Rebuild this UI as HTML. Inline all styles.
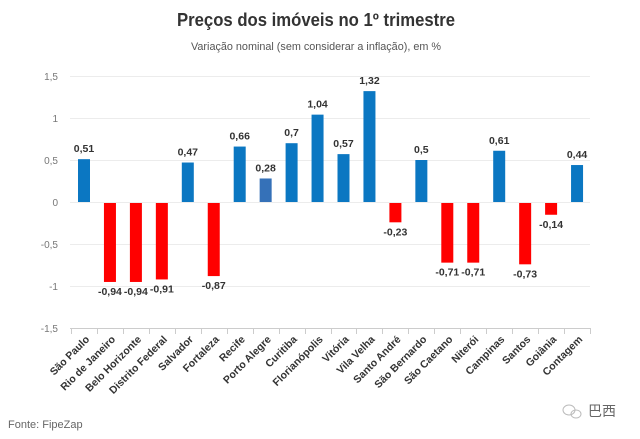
<!DOCTYPE html>
<html><head><meta charset="utf-8"><style>
html,body{margin:0;padding:0;background:#fff;}
svg{display:block;font-family:"Liberation Sans","Noto Sans CJK SC",sans-serif;}
</style></head><body>
<svg width="640" height="439" viewBox="0 0 640 439" xmlns="http://www.w3.org/2000/svg">
<text x="316" y="26" text-anchor="middle" font-size="18" font-weight="bold" fill="#333" textLength="278" lengthAdjust="spacingAndGlyphs">Preços dos imóveis no 1º trimestre</text>
<text x="316" y="50" text-anchor="middle" font-size="11" fill="#555" textLength="250" lengthAdjust="spacingAndGlyphs">Variação nominal (sem considerar a inflação), em %</text>
<g stroke="#ececec" stroke-width="1">
<line x1="70" x2="590" y1="76.5" y2="76.5"/>
<line x1="70" x2="590" y1="118.5" y2="118.5"/>
<line x1="70" x2="590" y1="160.5" y2="160.5"/>
<line x1="70" x2="590" y1="202.5" y2="202.5"/>
<line x1="70" x2="590" y1="244.5" y2="244.5"/>
<line x1="70" x2="590" y1="286.5" y2="286.5"/>
</g>
<line x1="70" x2="590" y1="328.5" y2="328.5" stroke="#ccc"/>
<g font-size="10" fill="#777" text-anchor="end">
<text x="58" y="80">1,5</text><text x="58" y="122">1</text><text x="58" y="164">0,5</text>
<text x="58" y="206">0</text><text x="58" y="248">-0,5</text><text x="58" y="290">-1</text><text x="58" y="332">-1,5</text>
</g>
<g id="ticks" stroke="#ccc"></g>
<g id="bars"></g>
<g id="vals" font-size="10.5" font-weight="bold" fill="#333" text-anchor="middle"></g>
<g id="cats" font-size="10.5" font-weight="bold" fill="#333" text-anchor="end"></g>
<text x="8" y="428" font-size="11" fill="#666">Fonte: FipeZap</text>
<g fill="none" stroke="#bbb" stroke-width="1"><ellipse cx="569" cy="410" rx="6" ry="5"/><ellipse cx="576" cy="414" rx="5" ry="4"/></g>
<text x="588" y="416" font-size="14" fill="#666">巴西</text>
<script>
var d=[["São Paulo",0.51],["Rio de Janeiro",-0.94],["Belo Horizonte",-0.94],["Distrito Federal",-0.91],["Salvador",0.47],["Fortaleza",-0.87],["Recife",0.66],["Porto Alegre",0.28],["Curitiba",0.7],["Florianópolis",1.04],["Vitória",0.57],["Vila Velha",1.32],["Santo André",-0.23],["São Bernardo",0.5],["São Caetano",-0.71],["Niterói",-0.71],["Campinas",0.61],["Santos",-0.73],["Goiânia",-0.14],["Contagem",0.44]];
var ns="http://www.w3.org/2000/svg",step=25.95,x0=84;
function el(t,a,p,txt){var e=document.createElementNS(ns,t);for(var k in a)e.setAttribute(k,a[k]);if(txt)e.textContent=txt;document.getElementById(p).appendChild(e);}
for(var i=0;i<=20;i++){var tx=Math.round(x0-step/2+i*step)+0.5;el("line",{x1:tx,x2:tx,y1:328,y2:334},"ticks");}
d.forEach(function(r,i){var cx=x0+i*step,v=r[1],h=Math.abs(v)*84,y=v>=0?202-h:203;
var c=v>=0?(i==7?"#3571b8":"#0b77c2"):"#ff0000";
el("rect",{x:cx-6,y:y,width:12,height:h,fill:c},"bars");
var s=v.toFixed(2).replace(".",",").replace(/0$/,"");if(s=="0,5")s="0,5";
el("text",{x:cx,y:v>=0?y-7:y+h+13},"vals",s);
el("text",{x:cx+6,y:340,transform:"rotate(-45 "+(cx+6)+" 340)"},"cats",r[0]);});
</script>
</svg>
</body></html>
